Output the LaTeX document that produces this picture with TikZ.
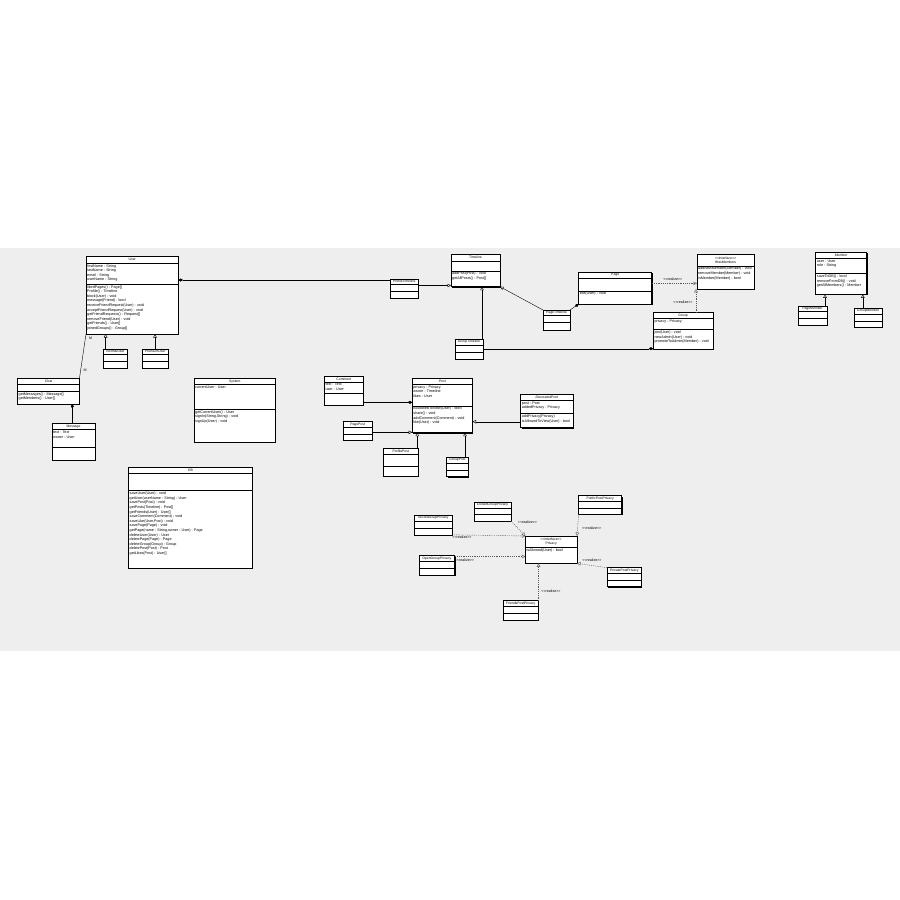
\documentclass[tikz,border=0pt]{standalone}
\usepackage{fontspec}
\newfontfamily\umlfont{Liberation Sans}
\usetikzlibrary{arrows.meta,shadows}
\definecolor{band}{HTML}{EEEEEE}
\tikzset{
  cls/.style={draw, fill=white, line width=0.45pt, anchor=north west, inner sep=0pt, outer sep=0pt,
    drop shadow={shadow xshift=0.9pt, shadow yshift=-0.9pt, fill=black, opacity=1}},
  sepline/.style={line width=0.35pt},
  ttl/.style={font=\umlfont\fontsize{3.4}{4.2}\selectfont, align=center, inner sep=0pt},
  txt/.style={font=\umlfont\fontsize{3.7}{4.6}\selectfont, align=left, anchor=north west, inner xsep=1pt, inner ysep=1.3pt},
  conn/.style={line width=0.4pt},
  inh/.style={conn, -{Triangle[open,length=3.5pt,width=3.5pt]}},
  comp/.style={conn, -{Diamond[length=4.5pt,width=3pt]}},
  real/.style={conn, gray!70!black, dash pattern=on 1.2pt off 1pt, -{Triangle[open,length=3.5pt,width=3.5pt]}},
  lbl/.style={font=\umlfont\fontsize{3.6}{4.2}\selectfont, inner sep=0.3pt},
}
% name, top-left corner, width, height, title, 1st separator, 2nd separator, attributes, operations
\newcommand\umlclass[9]{%
  \node[cls, minimum width=#3pt, minimum height=#4pt] (#1) at (#2) {};
  \draw[sepline] ([yshift=-#6pt]#1.north west) -- ([yshift=-#6pt]#1.north east);
  \draw[sepline] ([yshift=-#7pt]#1.north west) -- ([yshift=-#7pt]#1.north east);
  \node[ttl] (#1-t) at ([yshift=-#6pt/2]#1.north) {#5};
  \node[txt] (#1-a) at ([yshift=-#6pt]#1.north west) {#8};
  \node[txt] (#1-m) at ([yshift=-#7pt]#1.north west) {#9};
}
\begin{document}
\begin{tikzpicture}[x=1pt,y=-1pt]
\useasboundingbox (0,0) rectangle (900,900);
\fill[band] (0,248) rectangle (900,651);

% ---- users and chat ----
\umlclass{User}{86,256}{92.5}{78}{User}{7}{28}{firstName : String\\lastName : String\\email : String\\userName : String}{likedPages() : Page[]\\Profile() : Timeline\\block(User) : void\\message(Friend) : bool\\receiveFriendRequest(User) : void\\acceptFriendRequest(User) : void\\getFriendRequests() : Request[]\\removeFriend(User) : void\\getFriends() : User[]\\joinedGroups() : Group[]}
\umlclass{NormalUser}{103.5,349}{24}{19.5}{NormalUser}{5.5}{12}{}{}
\umlclass{PremiumUser}{142.5,349}{25.5}{19.5}{PremiumUser}{5.5}{12}{}{}
\umlclass{Chat}{17.5,378}{62}{26}{Chat}{6}{13}{}{getMessages() : Message[]\\getMembers() : User[]}
\umlclass{Message}{52,423.5}{43}{36.5}{Message}{6}{24}{text : Text\\owner : User}{}
\umlclass{System}{194,378}{81.5}{64}{System}{6.5}{31}{currentUser : User}{getCurrentUser() : User\\signIn(String,String) : void\\signUp(User) : void}
\umlclass{DB}{128.5,467}{124}{101.5}{DB}{6}{23.5}{}{saveUser(User) : void\\getUser(userName : String) : User\\savePost(Post) : void\\getPosts(Timeline) : Post[]\\getFriends(User) : User[]\\saveComment(Comment) : void\\saveLike(User,Post) : void\\savePage(Page) : void\\getPage(name : String,owner : User) : Page\\deleteUser(User) : User\\deletePage(Page) : Page\\deleteGroup(Group) : Group\\deletePost(Post) : Post\\getLikes(Post) : User[]}

% ---- timelines, pages, groups ----
\umlclass{Timeline}{451,254.3}{49}{32.4}{Timeline}{6.7}{16.4}{}{addPost(Post) : void\\getAllPosts() : Post[]}
\umlclass{ProfileTimeline}{390,279}{28.5}{19.3}{ProfileTimeline}{5.5}{12.5}{}{}
\umlclass{GroupTimeline}{455,339.3}{28}{19.7}{GroupTimeline}{5.5}{12.5}{}{}
\umlclass{PageTimeline}{543,310}{27}{20}{PageTimeline}{5.5}{12.5}{}{}
\umlclass{Page}{578.7,272.3}{73}{31.7}{Page}{5.5}{18.5}{}{like(User) : void}
\umlclass{IHasMembers}{697,254.3}{57}{34.5}{<<interface>>\\IHasMembers}{11.5}{11.5}{}{addNewMember(Member) : void\\removeMember(Member) : void\\isMember(Member) : bool}
\umlclass{Group}{653.3,312.7}{59.7}{36.6}{Group}{5.6}{16.6}{privacy : Privacy}{join(User) : void\\newAdmin(User) : void\\promoteToAdmin(Member) : void}
\umlclass{Member}{815.7,252.3}{51}{42}{\textit{Member}}{6}{21}{user : User\\role : String}{saveToDB() : bool\\removeFromDB() : void\\getAllMembers() : Member}
\umlclass{PageMember}{798,306}{29}{19}{PageMember}{5.5}{12.5}{}{}
\umlclass{GroupMember}{854,308.3}{28.3}{19}{GroupMember}{5.5}{12.5}{}{}

% ---- posts ----
\umlclass{Comment}{324.3,376}{39}{29}{Comment}{5.7}{17.3}{text : Text\\user : User}{}
\umlclass{Post}{412.2,378.3}{60.3}{54.4}{\textit{Post}}{5.7}{27.4}{privacy : Privacy\\owner : Timeline\\likes : User}{isAllowedToView(User) : bool\\share() : void\\addComment(Comment) : void\\like(User) : void}
\umlclass{DecoratedPost}{520.7,394}{52.3}{33.7}{\textit{DecoratedPost}}{6}{19.3}{post : Post\\addedPrivacy : Privacy}{addPrivacy(Privacy)\\isAllowedToView(User) : bool}
\umlclass{PagePost}{343.3,421.7}{28.7}{18.5}{PagePost}{5.5}{12}{}{}
\umlclass{ProfilePost}{383.5,448.3}{34.5}{27.7}{ProfilePost}{6}{17.4}{}{}
\umlclass{GroupPost}{446.6,457.3}{21.8}{19.4}{GroupPost}{5.5}{12.5}{}{}

% ---- privacy ----
\umlclass{Privacy}{525.3,536}{51.7}{27.3}{<<interface>>\\Privacy}{11.3}{11.3}{}{isAllowed(User) : bool}
\umlclass{ClosedGroupPrivacy}{474,502.3}{37}{18.7}{ClosedGroupPrivacy}{5.5}{12}{}{}
\umlclass{SecretGroupPrivacy}{414.5,515.3}{37.3}{19.5}{SecretGroupPrivacy}{5.5}{12.5}{}{}
\umlclass{OpenGroupPrivacy}{419,555.7}{35.6}{19.3}{OpenGroupPrivacy}{5.5}{12.5}{}{}
\umlclass{FriendsPostPrivacy}{502.9,600.7}{35.6}{19.3}{FriendsPostPrivacy}{5.5}{12.5}{}{}
\umlclass{PublicPostPrivacy}{578.6,495.7}{43}{18.6}{PublicPostPrivacy}{5.5}{12}{}{}
\umlclass{PrivatePostPrivacy}{607.3,567.7}{34}{19}{PrivatePostPrivacy}{5.5}{12.5}{}{}

% ---- connectors ----
\draw[inh] (NormalUser.north -| 105.6,0) -- (User.south -| 105.6,0);
\draw[inh] (PremiumUser.north -| 155,0) -- (User.south -| 155,0);
\draw[conn] (Chat.north east) -- (User.south west);
\node[lbl] (mult-user) at (90.7,338.3) {M};
\node[lbl] (mult-chat) at (85,370.7) {M};
\draw[comp] (Message.north -| 72.3,0) -- (Chat.south -| 72.3,0);

\draw[comp] (ProfileTimeline.west |- 0,280) -- (User.east |- 0,280);
\draw[inh] (ProfileTimeline.east |- 0,285.5) -- (Timeline.west |- 0,285.5);
\draw[inh] (GroupTimeline.north -| 482,0) -- (Timeline.south -| 482,0);
\draw[inh] (PageTimeline.north west) -- (Timeline.south east);
\draw[comp] (PageTimeline.north east) -- (Page.south west);
\draw[comp] (GroupTimeline.east |- 0,348.7) -- (Group.west |- 0,348.7);
\draw[real] (Page.east |- 0,283.3) -- (IHasMembers.west |- 0,283.3);
\node[lbl] (rl-page) at (672.8,279) {<<realize>>};
\draw[real] (Group.north -| 696,0) -- (IHasMembers.south -| 696,0);
\node[lbl] (rl-group) at (683,302.3) {<<realize>>};
\draw[inh] (PageMember.north -| 825,0) -- (Member.south -| 825,0);
\draw[inh] (GroupMember.north -| 862.8,0) -- (Member.south -| 862.8,0);

\draw[comp] (Comment.east |- 0,402.3) -- (Post.west |- 0,402.3);
\draw[inh] (PagePost.east |- 0,432.3) -- (Post.west |- 0,432.3);
\draw[inh] (ProfilePost.north -| 417.3,0) -- (Post.south -| 417.3,0);
\draw[inh] (GroupPost.north -| 465,0) -- (Post.south -| 465,0);
\draw[inh] (DecoratedPost.west |- 0,421.7) -- (Post.east |- 0,421.7);

\draw[real] (ClosedGroupPrivacy.south east) -- (Privacy.north west);
\node[lbl] (rl-closed) at (527.5,521.8) {<<realize>>};
\draw[real] (SecretGroupPrivacy.south east) -- (Privacy.north west);
\node[lbl] (rl-secret) at (462,537.3) {<<realize>>};
\draw[real] (OpenGroupPrivacy.east |- 0,556.5) -- (Privacy.west |- 0,556.5);
\node[lbl] (rl-open) at (464.5,560.6) {<<realize>>};
\draw[real] (FriendsPostPrivacy.north east) -- (FriendsPostPrivacy.north east |- Privacy.south);
\node[lbl] (rl-friends) at (551,591) {<<realize>>};
\draw[real] (PublicPostPrivacy.south west) -- (Privacy.north east);
\node[lbl] (rl-public) at (591.7,528.3) {<<realize>>};
\draw[real] (PrivatePostPrivacy.north west) -- (Privacy.south east);
\node[lbl] (rl-private) at (592,560.3) {<<realize>>};
\end{tikzpicture}
\end{document}
